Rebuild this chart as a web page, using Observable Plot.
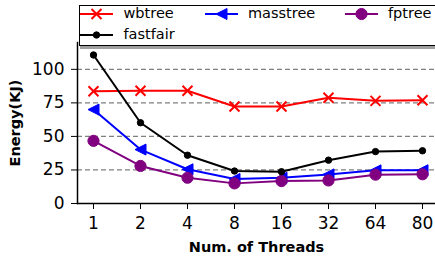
<!DOCTYPE html>
<html>
<head>
<meta charset="utf-8">
<script src="https://cdn.jsdelivr.net/npm/d3@7"></script>
<script src="https://cdn.jsdelivr.net/npm/@observablehq/plot@0.6"></script>
<style>
  html, body { margin:0; padding:0; background:#fff; overflow:hidden; }
  #wrap { position:relative; width:435px; height:261px; overflow:hidden; font-family:"DejaVu Sans", sans-serif; }
  #wrap svg.plot { position:absolute; left:0; top:0; }
  #legend { position:absolute; left:79px; top:5px; width:420px; height:39px; border:1.5px solid #000; background:#fff; box-shadow:1px 3px 0 #a0a0a0; }
  .item { position:absolute; height:16px; width:140px; }
  .item svg { position:absolute; left:0; top:0; }
  .item span { position:absolute; top:-1px; font-size:14.5px; line-height:17px; white-space:nowrap; color:#000; }
  [aria-label="x-axis label"] text, [aria-label="y-axis label"] text { font-weight:bold; font-size:14.5px; }
</style>
</head>
<body>
<div id="wrap"><div id="legend"></div></div>
<script>
const threads = ["1","2","4","8","16","32","64","80"];
const wbtree   = [83.7, 84.0, 84.0, 72.3, 72.3, 78.8, 76.5, 77.0];
const masstree = [70.0, 40.2, 25.5, 18.3, 19.2, 21.7, 24.7, 24.8];
const fptree   = [46.7, 28.0, 19.2, 15.0, 16.7, 17.2, 21.5, 21.8];
const fastfair = [110.7, 60.2, 36.0, 24.2, 23.7, 32.3, 38.7, 39.3];
const yTicks = [0, 25, 50, 75, 100];

const triangleLeft = {
  draw(ctx, size) {
    const r = Math.sqrt(size / Math.PI);
    ctx.moveTo(-r, 0); ctx.lineTo(r, -r); ctx.lineTo(r, r); ctx.closePath();
  }
};

const series = [
  {name:"wbtree",   values:wbtree,   color:"#ff0000", symbol:"times",      r:4.6, filled:false},
  {name:"masstree", values:masstree, color:"#0000ff", symbol:triangleLeft, r:5.5, filled:true},
  {name:"fptree",   values:fptree,   color:"#800080", symbol:"circle",     r:5.6, filled:true},
  {name:"fastfair", values:fastfair, color:"#000000", symbol:"circle",     r:3.2, filled:true}
];

const marks = [
  Plot.gridY(yTicks.filter(d => d > 0), {stroke:"#808080", strokeOpacity:1, strokeWidth:1.2, strokeDasharray:"5,3"}),
  Plot.frame({anchor:"left", stroke:"#000", strokeWidth:1.5}),
  Plot.frame({anchor:"bottom", stroke:"#000", strokeWidth:1.5}),
  Plot.axisX({tickSize:6, tickPadding:7, fontSize:17, label:"Num. of Threads", labelAnchor:"center", labelOffset:48, labelArrow:"none"}),
  Plot.axisY({ticks:yTicks, tickSize:6, tickPadding:7, fontSize:17, label:"Energy(KJ)", labelAnchor:"center", labelOffset:68, labelArrow:"none"})
];
for (const s of series) {
  const rows = threads.map((t, i) => ({t, v: s.values[i]}));
  marks.push(Plot.line(rows, {x:"t", y:"v", stroke:s.color, strokeWidth:2}));
  marks.push(Plot.dot(rows, {x:"t", y:"v", symbol:s.symbol, r:s.r,
    fill: s.filled ? s.color : "none", stroke:s.color, strokeWidth: s.filled ? 1 : 2}));
}

const chart = Plot.plot({
  width:435, height:261,
  marginLeft:77, marginRight:0, marginTop:42, marginBottom:58,
  style:{fontFamily:"DejaVu Sans, sans-serif", background:"#fff", overflow:"hidden"},
  x:{type:"point", domain:threads, range:[93.3, 422.7], padding:0},
  y:{domain:[0, 120]},
  marks
});
chart.classList.add("plot");
document.getElementById("wrap").prepend(chart);

// legend
const pos = [{x:0, y:0}, {x:124.5, y:0}, {x:264.5, y:0}, {x:0, y:21}];
const legend = document.getElementById("legend");
series.forEach((s, i) => {
  const p = pos[i];
  const item = document.createElement("div");
  item.className = "item";
  item.style.left = p.x + "px";
  item.style.top = p.y + "px";
  const svg = d3.create("svg").attr("width", 34).attr("height", 16);
  svg.append("line").attr("x1", 0).attr("x2", 33).attr("y1", 8).attr("y2", 8).attr("stroke", s.color).attr("stroke-width", 2);
  const type = typeof s.symbol === "string" ? (s.symbol === "times" ? d3.symbolTimes : d3.symbolCircle) : s.symbol;
  svg.append("path").attr("transform", "translate(16.5,8)")
    .attr("d", d3.symbol(type, Math.PI * s.r * s.r)())
    .attr("fill", s.filled ? s.color : "none").attr("stroke", s.color).attr("stroke-width", s.filled ? 1 : 2);
  item.appendChild(svg.node());
  const label = document.createElement("span");
  label.textContent = s.name;
  label.style.left = "43.5px";
  item.appendChild(label);
  legend.appendChild(item);
});
</script>
</body>
</html>
